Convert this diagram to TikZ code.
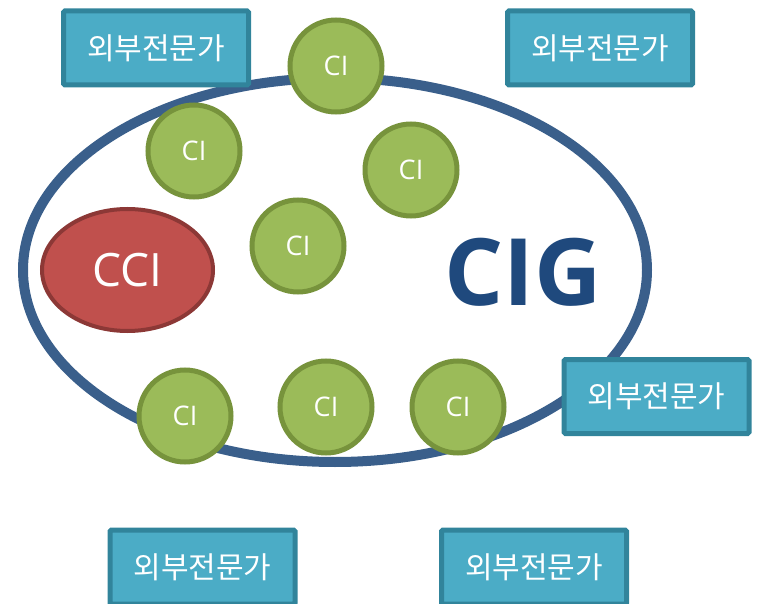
\documentclass[tikz,border=0pt]{standalone}
\usepackage{fontspec}
\usetikzlibrary{shapes.geometric}
\setmainfont{Open Sans}
\newfontfamily\krfont{Noto Sans CJK KR}
\newfontfamily\boldsans{Open Sans}[BoldFont={* Bold}]
\definecolor{cigline}{HTML}{3A5F8B}
\definecolor{cigtext}{HTML}{1F497D}
\definecolor{cifill}{HTML}{9BBB59}
\definecolor{ciline}{HTML}{77933C}
\definecolor{ccifill}{HTML}{C0504D}
\definecolor{cciline}{HTML}{8C3836}
\definecolor{boxfill}{HTML}{4BACC6}
\definecolor{boxline}{HTML}{31849B}
\tikzset{
  cinode/.style={circle, draw=ciline, fill=cifill, line width=5pt, minimum size=92pt, inner sep=0pt,
    text=white, font=\fontsize{27}{30}\selectfont},
  expert/.style={rectangle, draw=boxline, fill=boxfill, line width=5pt, minimum width=185pt, minimum height=74pt,
    rounded corners=1.5pt, inner sep=0pt, text=white, font=\krfont\fontsize{30}{34}\selectfont},
}
\begin{document}
\begin{tikzpicture}[x=1pt,y=-1pt]
\useasboundingbox (0,0) rectangle (758,604);
\clip (0,0) rectangle (758,604);
% big ellipse
\draw[cigline, line width=10pt] (335,270) ellipse [x radius=312, y radius=192];
\node[text=cigtext, font=\boldsans\bfseries\fontsize{93}{100}\selectfont, inner sep=0pt] (cig) at (523,272) {CIG};
% CCI
\node[ellipse, draw=cciline, fill=ccifill, line width=4pt, minimum width=171pt, minimum height=122pt, inner sep=0pt,
  text=white, font=\fontsize{46}{50}\selectfont] (cci) at (127.5,270) {CCI};
% CI circles
\node[cinode] (ci1) at (336,66) {CI};
\node[cinode] (ci2) at (194,151) {CI};
\node[cinode] (ci3) at (411,170) {CI};
\node[cinode] (ci4) at (298,246) {CI};
\node[cinode] (ci5) at (185,416) {CI};
\node[cinode] (ci6) at (326,407) {CI};
\node[cinode] (ci7) at (458,407) {CI};
% expert boxes
\node[expert] (e1) at (156,48) {외부전문가};
\node[expert] (e2) at (600,48) {외부전문가};
\node[expert] (e3) at (656.5,396.5) {외부전문가};
\node[expert] (e4) at (202.5,567) {외부전문가};
\node[expert] (e5) at (534,567) {외부전문가};
\end{tikzpicture}
\end{document}
